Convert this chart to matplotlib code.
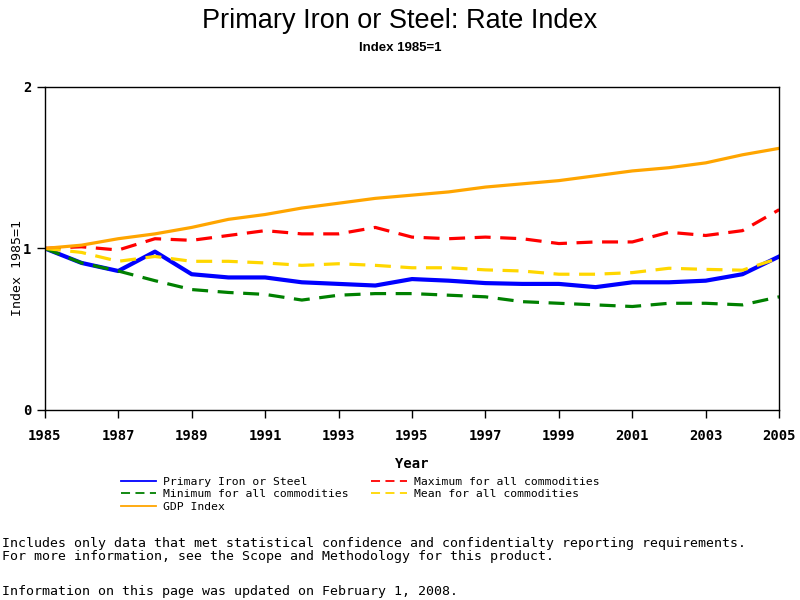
import numpy as np
import matplotlib
matplotlib.use("Agg")
import matplotlib.pyplot as plt

years = list(range(1985, 2006))

primary = [1.00, 0.91, 0.86, 0.98, 0.84, 0.82, 0.82, 0.79, 0.78, 0.77, 0.81,
           0.80, 0.785, 0.78, 0.78, 0.76, 0.79, 0.79, 0.80, 0.84, 0.95]
maximum = [1.00, 1.01, 0.99, 1.06, 1.05, 1.08, 1.11, 1.09, 1.09, 1.13, 1.07,
           1.06, 1.07, 1.06, 1.03, 1.04, 1.04, 1.10, 1.08, 1.11, 1.24]
minimum = [1.00, 0.91, 0.86, 0.80, 0.745, 0.727, 0.715, 0.68, 0.71, 0.72, 0.72,
           0.71, 0.70, 0.67, 0.66, 0.65, 0.64, 0.66, 0.66, 0.65, 0.70]
mean = [1.00, 0.975, 0.92, 0.95, 0.92, 0.92, 0.91, 0.895, 0.905, 0.895, 0.88,
        0.88, 0.867, 0.86, 0.84, 0.84, 0.85, 0.877, 0.87, 0.865, 0.94]
gdp = [1.00, 1.02, 1.06, 1.09, 1.13, 1.18, 1.21, 1.25, 1.28, 1.31, 1.33,
       1.35, 1.38, 1.40, 1.42, 1.45, 1.48, 1.50, 1.53, 1.58, 1.62]

xticks = list(range(1985, 2006, 2))
yticks = [0, 1, 2]

mono = "DejaVu Sans Mono"

fig = plt.figure(figsize=(8, 6), dpi=100)
ax = fig.add_axes([0.056, 0.317, 0.918, 0.538])

dash = (0, (5, 3))
l1, = ax.plot(years, primary, color="#0000ff", lw=3, label="Primary Iron or Steel")
l4, = ax.plot(years, maximum, color="#ff0000", lw=2.3, ls=dash, label="Maximum for all commodities")
l2, = ax.plot(years, minimum, color="#008000", lw=2.3, ls=dash, label="Minimum for all commodities")
l5, = ax.plot(years, mean, color="#ffd700", lw=2.3, ls=dash, label="Mean for all commodities")
l3, = ax.plot(years, gdp, color="#ffa500", lw=2.3, label="GDP Index")

ax.set_xlim(1985, 2005)
ax.set_ylim(0, 2)
ax.set_xticks(xticks)
ax.set_yticks(yticks)
ax.tick_params(direction="out", length=6, width=1, labelsize=10)
ax.tick_params(axis="x", pad=8)
for lab in ax.get_xticklabels() + ax.get_yticklabels():
    lab.set_fontweight("bold")
    lab.set_family(mono)
for s in ax.spines.values():
    s.set_linewidth(1)

ax.set_xlabel("Year", fontsize=10, family=mono, fontweight="bold", labelpad=10)
ax.set_ylabel("Index 1985=1", fontsize=9.5, family=mono)
ax.yaxis.set_label_coords(-0.028, 0.44)

fig.text(0.5, 0.965, "Primary Iron or Steel: Rate Index", ha="center", va="center",
         fontsize=19.5, family="Liberation Sans")
fig.text(0.5, 0.92, "Index 1985=1", ha="center", va="center", fontsize=9.5,
         family="Liberation Sans", fontweight="bold")

handles = [l1, l2, l3, l4, l5]
leg = fig.legend(handles=handles, labels=[h.get_label() for h in handles],
                 ncol=2, loc="upper left", bbox_to_anchor=(0.144, 0.215),
                 frameon=False, prop={"family": mono, "size": 8.2},
                 handlelength=3.1, handletextpad=0.6, columnspacing=2.0,
                 labelspacing=0.22, borderpad=0)
for h in leg.get_lines():
    h.set_linewidth(1.3)

fig.text(0.003, 0.095, "Includes only data that met statistical confidence and confidentialty reporting requirements.",
         fontsize=9.5, family=mono, va="center")
fig.text(0.003, 0.073, "For more information, see the Scope and Methodology for this product.",
         fontsize=9.5, family=mono, va="center")
fig.text(0.003, 0.014, "Information on this page was updated on February 1, 2008.",
         fontsize=9.5, family=mono, va="center")

fig.savefig("out.png", dpi=100)
